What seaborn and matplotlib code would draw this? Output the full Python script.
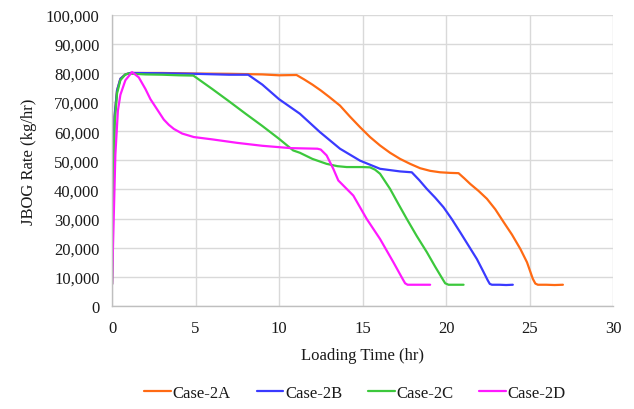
import matplotlib
matplotlib.use("Agg")
import matplotlib.pyplot as plt
from matplotlib.ticker import FuncFormatter, MultipleLocator
from matplotlib.lines import Line2D
import seaborn as sns
import pandas as pd

# Loading time (hr) and JBOG rate (kg/hr) for each case
time_2a = [0, 0.05, 0.15, 0.3, 0.5, 0.8, 1.1, 3, 5, 7, 9, 10, 11.05, 11.5, 12, 12.5, 13,
           13.65, 14.25, 14.85, 15.45, 16.05, 16.65, 17.25, 17.85, 18.45, 19.05, 19.65,
           20.25, 20.75, 21.1, 21.45, 21.95, 22.45, 22.95, 23.45, 23.95, 24.45, 24.85,
           25.2, 25.35, 25.5, 26, 26.5, 27.0]
rate_2a = [7500, 40000, 65000, 74000, 78000, 79500, 80000, 80000, 79800, 79700, 79500,
           79200, 79300, 77800, 76000, 74000, 71800, 68800, 65000, 61400, 58000, 55100,
           52600, 50500, 48800, 47300, 46400, 45900, 45700, 45600, 43800, 41900, 39500,
           36800, 33200, 28800, 24500, 19600, 15000, 9300, 7700, 7300, 7300, 7200, 7300]

time_2b = [0, 0.05, 0.15, 0.3, 0.5, 0.8, 1.1, 3, 5, 7, 8.15, 9, 10, 11.25, 12.45, 13.65,
           14.85, 16.05, 17.25, 17.95, 18.4, 18.85, 19.35, 19.85, 20.35, 20.85, 21.35,
           21.85, 22.2, 22.5, 22.62, 22.75, 23.2, 23.6, 24.0]
rate_2b = [7500, 40000, 65000, 74000, 78000, 79500, 80000, 79900, 79700, 79400, 79400,
           76000, 71000, 66000, 59700, 54000, 49900, 47100, 46200, 45900, 43200, 40200,
           37200, 33900, 29800, 25300, 20700, 16100, 12200, 8800, 7600, 7300, 7300, 7200,
           7300]

time_2c = [0, 0.05, 0.15, 0.3, 0.5, 0.8, 1.0, 2, 3, 4, 4.87, 6, 7, 8, 9, 10, 10.85, 11.25,
           12, 12.85, 13.5, 14.05, 15, 15.45, 15.75, 16.05, 16.65, 17.15, 17.65, 18.25,
           18.85, 19.35, 19.8, 19.95, 20.15, 20.5, 21.05]
rate_2c = [7500, 35000, 62000, 73000, 77500, 79500, 79800, 79500, 79400, 79200, 79100,
           74500, 70300, 66000, 61800, 57400, 53400, 52600, 50500, 48800, 48000, 47700,
           47700, 47600, 46800, 45400, 40200, 35000, 29900, 24000, 18500, 13500, 9200,
           7800, 7300, 7300, 7300]

time_2d = [0, 0.1, 0.2, 0.35, 0.5, 0.8, 1.2, 1.6, 2.0, 2.3, 2.7, 3.1, 3.4, 3.7, 4.2, 4.9,
           6, 7.5, 9, 10.7, 12.3, 12.5, 12.85, 13.25, 13.55, 14, 14.45, 15.25, 16.05,
           16.85, 17.4, 17.55, 17.7, 18.3, 19.05]
rate_2d = [7500, 30000, 52000, 67000, 72500, 77500, 80300, 78500, 74500, 71000, 67500,
           64000, 62200, 60800, 59200, 58000, 57200, 56000, 55000, 54200, 54000, 53700,
           51700, 47100, 43100, 40500, 37900, 29900, 23000, 15000, 9300, 7800, 7300,
           7300, 7300]

cases = ["Case-2A", "Case-2B", "Case-2C", "Case-2D"]
colors = ["#FF6A13", "#3A3AFF", "#3CC83C", "#FF19FF"]

frames = []
for name, t, r in zip(cases, [time_2a, time_2b, time_2c, time_2d],
                      [rate_2a, rate_2b, rate_2c, rate_2d]):
    frames.append(pd.DataFrame({"time": t, "rate": r, "case": name}))
df = pd.concat(frames, ignore_index=True)

sns.set_theme(style="white")
plt.rcParams["font.family"] = ["Liberation Serif", "DejaVu Serif"]

fig = plt.figure(figsize=(6.34, 4.10), dpi=100)
ax = fig.add_axes([0.1767, 0.2512, 0.7902, 0.7105])

sns.lineplot(data=df, x="time", y="rate", hue="case", hue_order=cases,
             palette=dict(zip(cases, colors)), estimator=None, sort=False,
             linewidth=1.6, legend=False, ax=ax)
for line in ax.get_lines():
    line.set_solid_joinstyle("round")

ax.set_xlim(0, 30)
ax.set_ylim(0, 100000)
ax.xaxis.set_major_locator(MultipleLocator(5))
ax.yaxis.set_major_locator(MultipleLocator(10000))
ax.yaxis.set_major_formatter(FuncFormatter(lambda v, p: f"{int(v):,}"))

grid_c = "#D9D9D9"
ax.grid(True, color=grid_c, linewidth=1.0)
ax.set_axisbelow(True)
for side in ["top", "right"]:
    ax.spines[side].set_visible(False)
for side in ["left", "bottom"]:
    ax.spines[side].set_color("#BFBFBF")
    ax.spines[side].set_linewidth(1.0)

fs = 12
ax.tick_params(axis="both", which="major", direction="out", length=4,
               width=1.0, color="#BFBFBF", labelsize=fs, labelcolor="#1A1A1A")
ax.tick_params(axis="y", pad=5)
ax.tick_params(axis="x", pad=6)

ax.set_xlabel("Loading Time (hr)", fontsize=fs, color="#1A1A1A", labelpad=8)
ax.set_ylabel("JBOG Rate (kg/hr)", fontsize=fs, color="#1A1A1A", labelpad=6)

handles = [Line2D([0], [0], color=c, lw=1.6) for c in colors]
fig.legend(handles, cases, loc="center", bbox_to_anchor=(355 / 634, 1 - 394 / 410),
           ncol=4, frameon=False, fontsize=fs, handlelength=1.6,
           handletextpad=0.1, columnspacing=1.55, labelcolor="#1A1A1A")

fig.savefig("out.png", dpi=100)
